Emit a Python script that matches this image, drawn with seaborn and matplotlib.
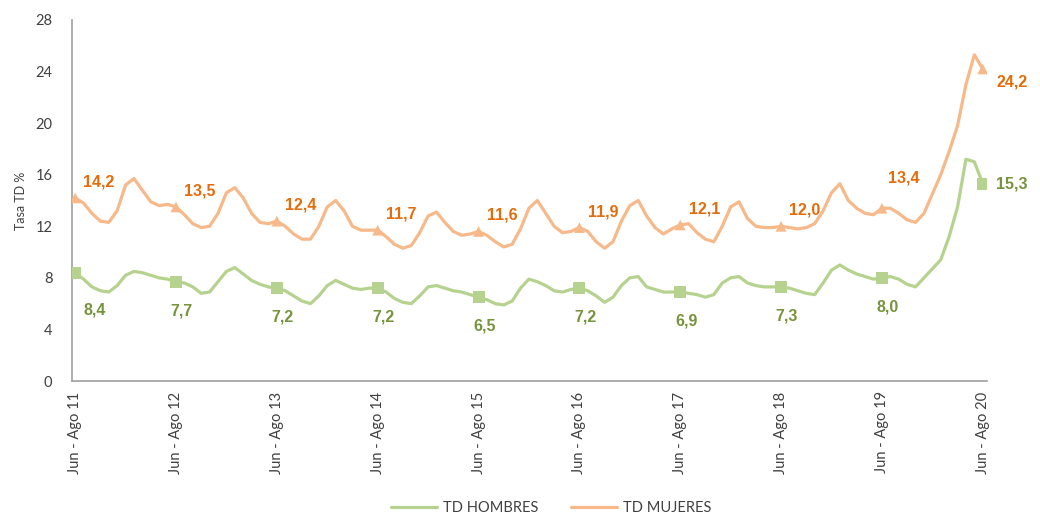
import matplotlib
matplotlib.use("Agg")
import matplotlib.pyplot as plt
import seaborn as sns
import pandas as pd

# rolling quarters, Jun-Ago 2011 .. Jun-Ago 2020 (109 points)
mujeres = [
    14.2, 13.8, 13.0, 12.4, 12.3, 13.2, 15.2, 15.7, 14.8, 13.9, 13.6, 13.7,
    13.5, 12.9, 12.2, 11.9, 12.0, 13.0, 14.6, 15.0, 14.2, 13.0, 12.3, 12.2,
    12.4, 12.0, 11.4, 11.0, 11.0, 12.0, 13.5, 14.0, 13.2, 12.0, 11.7, 11.7,
    11.7, 11.2, 10.6, 10.3, 10.5, 11.5, 12.8, 13.1, 12.3, 11.6, 11.3, 11.4,
    11.6, 11.3, 10.8, 10.4, 10.6, 11.8, 13.4, 14.0, 13.0, 12.0, 11.5, 11.6,
    11.9, 11.6, 10.8, 10.3, 10.8, 12.4, 13.6, 14.0, 12.8, 11.9, 11.4, 11.8,
    12.1, 12.2, 11.5, 11.0, 10.8, 12.0, 13.5, 13.9, 12.6, 12.0, 11.9, 11.9,
    12.0, 11.9, 11.8, 11.9, 12.2, 13.2, 14.6, 15.3, 14.0, 13.4, 13.0, 12.9,
    13.4, 13.4, 13.0, 12.5, 12.3, 13.0, 14.5, 16.0, 17.8, 19.8, 23.0, 25.3,
    24.2,
]
hombres = [
    8.4, 7.9, 7.3, 7.0, 6.9, 7.4, 8.2, 8.5, 8.4, 8.2, 8.0, 7.9,
    7.7, 7.6, 7.3, 6.8, 6.9, 7.7, 8.5, 8.8, 8.3, 7.8, 7.5, 7.3,
    7.2, 7.0, 6.6, 6.2, 6.0, 6.6, 7.4, 7.8, 7.5, 7.2, 7.1, 7.2,
    7.2, 6.9, 6.4, 6.1, 6.0, 6.6, 7.3, 7.4, 7.2, 7.0, 6.9, 6.7,
    6.5, 6.3, 6.0, 5.9, 6.2, 7.2, 7.9, 7.7, 7.4, 7.0, 6.9, 7.1,
    7.2, 7.0, 6.6, 6.1, 6.5, 7.4, 8.0, 8.1, 7.3, 7.1, 6.9, 6.9,
    6.9, 6.8, 6.7, 6.5, 6.7, 7.6, 8.0, 8.1, 7.6, 7.4, 7.3, 7.3,
    7.3, 7.2, 7.0, 6.8, 6.7, 7.6, 8.6, 9.0, 8.6, 8.3, 8.1, 7.9,
    8.0, 8.1, 7.9, 7.5, 7.3, 8.0, 8.7, 9.4, 11.2, 13.5, 17.2, 17.0,
    15.3,
]
tick_labels = ["Jun - Ago 11", "Jun - Ago 12", "Jun - Ago 13", "Jun - Ago 14", "Jun - Ago 15",
               "Jun - Ago 16", "Jun - Ago 17", "Jun - Ago 18", "Jun - Ago 19", "Jun - Ago 20"]

mes = list(range(len(mujeres)))
df = pd.DataFrame({"mes": mes, "mujeres": mujeres, "hombres": hombres})
hitos = df[df["mes"] % 12 == 0]

# label offsets in pixels (dx, dy), dy positive = down
off_m = [(24, -16)] * 8 + [(22, -30), (29, 13)]
off_h = [(20, 37)] + [(6, 29)] * 8 + [(29, 0)]

c_h, c_m = "#B5D38F", "#F7B98A"
c_h_txt, c_m_txt = "#77933C", "#E46C0A"

sns.set_style("white")
plt.rcParams["font.family"] = ["Lato", "DejaVu Sans"]

fig = plt.figure(figsize=(10.4, 5.23), dpi=100)
ax = fig.add_axes([0.069, 0.2715, 0.88, 0.6903])

sns.lineplot(data=df, x="mes", y="hombres", color=c_h, linewidth=2.3, label="TD HOMBRES", ax=ax)
sns.lineplot(data=df, x="mes", y="mujeres", color=c_m, linewidth=2.3, label="TD MUJERES", ax=ax)
sns.scatterplot(data=hitos, x="mes", y="hombres", marker="s", s=75, color=c_h, edgecolor="none",
                legend=False, ax=ax, zorder=3)
sns.scatterplot(data=hitos, x="mes", y="mujeres", marker="^", s=60, color=c_m, edgecolor="none",
                legend=False, ax=ax, zorder=3)

k = 0.72  # px -> pt
for i, (_, r) in enumerate(hitos.iterrows()):
    dx, dy = off_m[i]
    ax.annotate(f"{r['mujeres']:.1f}".replace(".", ","), (r["mes"], r["mujeres"]),
                xytext=(dx * k, -dy * k), textcoords="offset points", ha="center", va="center",
                fontsize=11.5, fontweight="bold", color=c_m_txt, family="Liberation Sans")
    dx, dy = off_h[i]
    ax.annotate(f"{r['hombres']:.1f}".replace(".", ","), (r["mes"], r["hombres"]),
                xytext=(dx * k, -dy * k), textcoords="offset points", ha="center", va="center",
                fontsize=11.5, fontweight="bold", color=c_h_txt, family="Liberation Sans")

ax.set_xlim(-0.4, 108.5)
ax.set_ylim(0, 28)
ax.set_yticks(range(0, 29, 4))
ax.set_xticks(hitos["mes"])
ax.set_xticklabels(tick_labels, rotation=90)
ax.set_xlabel("")
ax.set_ylabel("Tasa TD %", fontsize=9, color="#404040", labelpad=6)
ax.tick_params(axis="both", labelsize=10.5, colors="#404040", length=4, width=1, direction="out")
ax.tick_params(axis="y", pad=10, color="#A0A0A0")
ax.tick_params(axis="x", color="#A0A0A0")
for s in ["top", "right"]:
    ax.spines[s].set_visible(False)
for s in ["left", "bottom"]:
    ax.spines[s].set_color("#A0A0A0")
    ax.spines[s].set_linewidth(1.2)

ax.get_legend().remove()
h, l = ax.get_legend_handles_labels()
fig.legend(h, l, loc="lower center", bbox_to_anchor=(0.53, -0.01), ncol=2, frameon=False,
           fontsize=10.5, handlelength=3.2, handletextpad=0.4, columnspacing=2.2,
           labelcolor="#404040")

fig.savefig("out.png", dpi=100)
